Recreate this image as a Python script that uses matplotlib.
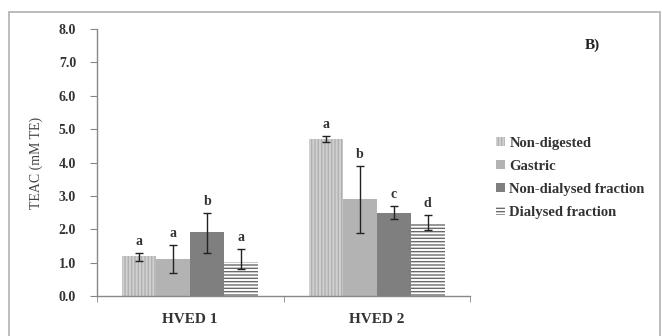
import matplotlib
matplotlib.use("Agg")
import matplotlib.pyplot as plt
import numpy as np
from matplotlib.patches import Rectangle

plt.rcParams['font.family'] = ['Liberation Serif', 'DejaVu Serif']
plt.rcParams['hatch.linewidth'] = 1.0

groups = ["HVED 1", "HVED 2"]
series = ["Non-digested", "Gastric", "Non-dialysed fraction", "Dialysed fraction"]

# values per series (HVED 1, HVED 2)
non_digested = [1.19, 4.70]
gastric = [1.10, 2.90]
non_dialysed = [1.91, 2.48]
dialysed = [1.02, 2.19]

# (lower, upper) error for HVED 1, then HVED 2
err_non_digested = [[0.13, 0.11], [0.08, 0.08]]
err_gastric = [[0.42, 0.43], [1.00, 0.99]]
err_non_dialysed = [[0.61, 0.57], [0.18, 0.21]]
err_dialysed = [[0.21, 0.39], [0.21, 0.23]]

letters_non_digested = ["a", "a"]
letters_gastric = ["a", "b"]
letters_non_dialysed = ["b", "c"]
letters_dialysed = ["a", "d"]

values = [non_digested, gastric, non_dialysed, dialysed]
errors = [err_non_digested, err_gastric, err_non_dialysed, err_dialysed]
letters = [letters_non_digested, letters_gastric, letters_non_dialysed, letters_dialysed]

faces = ['#d0d0d0', '#b3b3b3', '#7f7f7f', '#ffffff']
hatch_cols = ['#b0b0b0', '#b3b3b3', '#7f7f7f', '#6a6a6a']
hatches = ['|||||', None, None, '-----']

fig = plt.figure(figsize=(6.62, 3.36), dpi=100)
fig.patches.append(Rectangle((9 / 662, -0.3), 651 / 662, 1.3 - 12 / 336,
                             transform=fig.transFigure, fill=False,
                             edgecolor='#b0b0b0', linewidth=1.2))

ax = fig.add_axes([0.1465, 0.119, 0.5635, 0.7946])
x = np.arange(len(groups))
w = 0.182

for i, (vals, err, lab) in enumerate(zip(values, errors, letters)):
    pos = x + (i - 1.5) * w
    ax.bar(pos, vals, w, color=faces[i], edgecolor=hatch_cols[i],
           hatch=hatches[i], linewidth=0, label=series[i])
    ax.errorbar(pos, vals, yerr=np.array(err).T, fmt='none', ecolor='#222222',
                elinewidth=1, capsize=3, capthick=1)
    for p, v, e, t in zip(pos, vals, err, lab):
        ax.text(p, v + e[1] + 0.15, t, ha='center', va='bottom',
                fontsize=10, fontweight='bold', color='#333333')

ax.set_xlim(-0.5, 1.5)
ax.set_ylim(0, 8)
ax.set_yticks(np.arange(0, 8.1, 1.0))
ax.set_yticklabels(["%.1f" % t for t in np.arange(0, 8.1, 1.0)],
                   fontsize=10, fontweight='bold', color='#333333')
ax.set_xticks(x)
ax.set_xticklabels(groups, fontsize=11, fontweight='bold', color='#333333')
ax.tick_params(axis='x', which='major', length=0, pad=12)
ax.set_xticks([-0.5, 0.5, 1.5], minor=True)
ax.tick_params(axis='x', which='minor', length=4, color='#888888')
ax.tick_params(axis='y', length=5, color='#888888', pad=10)
ax.set_ylabel("TEAC (mM TE)", fontsize=10, color='#444444', labelpad=11)

for s in ['top', 'right']:
    ax.spines[s].set_visible(False)
for s in ['left', 'bottom']:
    ax.spines[s].set_color('#888888')
    ax.spines[s].set_linewidth(1)

leg = ax.legend(loc='upper left', bbox_to_anchor=(1.035, 0.645), frameon=False,
                handlelength=0.6, handleheight=0.6,
                handletextpad=0.3, labelspacing=0.68,
                prop={'weight': 'bold', 'size': 10.5})
for t in leg.get_texts():
    t.set_color('#333333')

fig.text(592 / 662, 1 - 45 / 336, "B)", fontsize=11, fontweight='bold',
         ha='center', va='center', color='#222222')

fig.savefig("out.png", dpi=100)
